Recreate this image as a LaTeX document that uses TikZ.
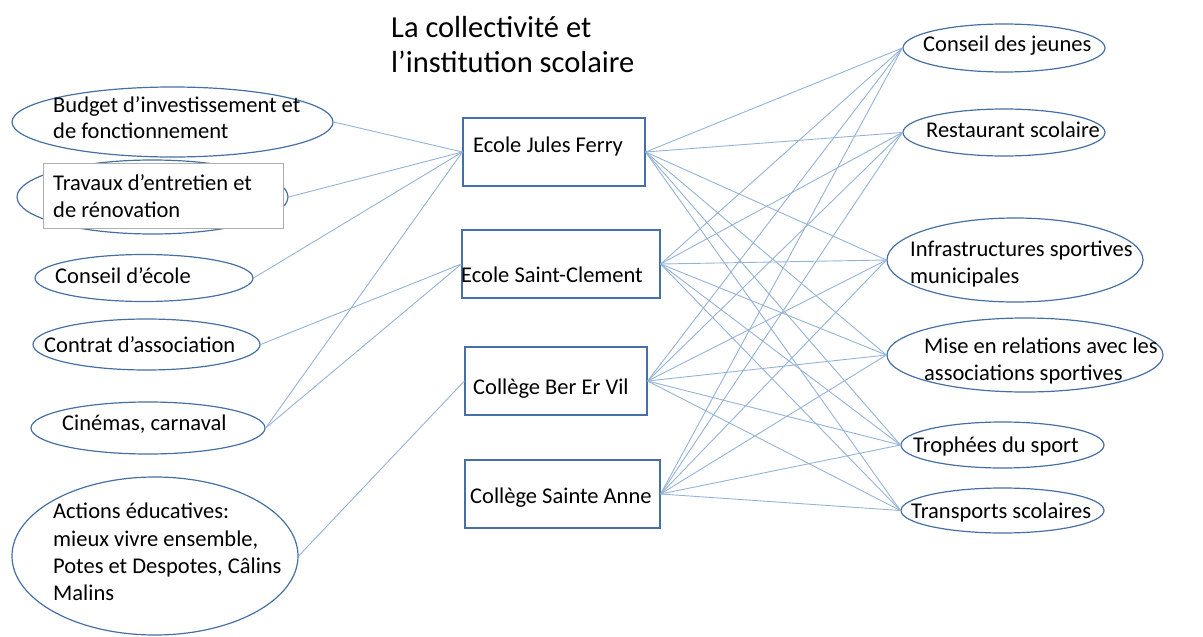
\documentclass[tikz,border=0pt]{standalone}
\usepackage{fontspec}
\setmainfont{Carlito}
\usetikzlibrary{shapes.geometric}
\definecolor{edgeblue}{RGB}{70,112,165}
\definecolor{linkblue}{RGB}{149,179,215}
\definecolor{boxgray}{RGB}{175,175,175}
\tikzset{
  ell/.style={draw=edgeblue, line width=1.2pt, ellipse, inner sep=0pt, fill=white},
  boxnode/.style={draw=edgeblue, line width=1.2pt, rectangle, inner sep=0pt, fill=white, minimum height=68},
  txt/.style={anchor=base west, inner sep=0pt, font=\fontsize{22.5}{27}\selectfont},
  ttl/.style={anchor=base west, inner sep=0pt, font=\fontsize{30.5}{35}\selectfont},
  link/.style={draw=linkblue, line width=0.9pt}
}
\begin{document}
\begin{tikzpicture}[x=1pt,y=-1pt]
\useasboundingbox (0,0) rectangle (1203,637);
% title
\node[ttl] (title1) at (391,37) {La collectivité et};
\node[ttl] (title2) at (391,72) {l’institution scolaire};
% left ellipses
\node[ell, minimum width=321, minimum height=70] (budget) at (172.5,122) {};
\node[ell, minimum width=271, minimum height=74] (travaux) at (152.5,197) {};
\node[draw=boxgray, fill=white, line width=0.8pt, rectangle, inner sep=0pt, minimum width=240, minimum height=65] (travauxbox) at (163,195.5) {};
\node[ell, minimum width=218, minimum height=47] (conseil) at (144,278) {};
\node[ell, minimum width=227, minimum height=51] (contrat) at (146.5,344.5) {};
\node[ell, minimum width=234, minimum height=52] (cinemas) at (148,428) {};
\node[ell, minimum width=286, minimum height=158] (actions) at (155,556) {};
% center boxes
\node[boxnode, minimum width=182] (jf) at (554,152) {};
\node[boxnode, minimum width=198] (sc) at (561,264) {};
\node[boxnode, minimum width=182] (bev) at (556,381) {};
\node[boxnode, minimum width=195] (sa) at (562.5,494) {};
% right ellipses
\node[ell, minimum width=202, minimum height=48] (cdj) at (1004,48) {};
\node[ell, minimum width=202, minimum height=47] (resto) at (1004,132.5) {};
\node[ell, minimum width=256, minimum height=84] (infra) at (1015,260) {};
\node[ell, minimum width=276, minimum height=74] (mise) at (1025,355) {};
\node[ell, minimum width=203, minimum height=46] (troph) at (1002.5,445) {};
\node[ell, minimum width=203, minimum height=45] (transp) at (1002.5,510.5) {};
% left texts
\node[txt] (tbudget1) at (53,112) {Budget d’investissement et};
\node[txt] (tbudget2) at (53,138) {de fonctionnement};
\node[txt] (ttravaux1) at (53,190) {Travaux d’entretien et};
\node[txt] (ttravaux2) at (53,217) {de rénovation};
\node[txt] (tconseil) at (55,283) {Conseil d’école};
\node[txt] (tcontrat) at (44,352) {Contrat d’association};
\node[txt] (tcinemas) at (62,430) {Cinémas, carnaval};
\node[txt] (tactions1) at (53,518) {Actions éducatives:};
\node[txt] (tactions2) at (53,546) {mieux vivre ensemble,};
\node[txt] (tactions3) at (53,573) {Potes et Despotes, Câlins};
\node[txt] (tactions4) at (53,600) {Malins};
% center texts
\node[txt] (tjf) at (473,152) {Ecole Jules Ferry};
\node[txt] (tsc) at (461,282) {Ecole Saint-Clement};
\node[txt] (tbev) at (473,394) {Collège Ber Er Vil};
\node[txt] (tsa) at (470,503) {Collège Sainte Anne};
% right texts
\node[txt] (tcdj) at (923,51) {Conseil des jeunes};
\node[txt] (tresto) at (926,137) {Restaurant scolaire};
\node[txt] (tinfra1) at (910,256) {Infrastructures sportives};
\node[txt] (tinfra2) at (910,283) {municipales};
\node[txt] (tmise1) at (924,353) {Mise en relations avec les};
\node[txt] (tmise2) at (924,380) {associations sportives};
\node[txt] (ttroph) at (913,452) {Trophées du sport};
\node[txt] (ttransp) at (911,518) {Transports scolaires};
% left connectors
\draw[link] (budget.east) -- (jf.west);
\draw[link] (travaux.east) -- (jf.west);
\draw[link] (conseil.east) -- (jf.west);
\draw[link] (contrat.east) -- (sc.west);
\draw[link] (cinemas.east) -- (jf.west);
\draw[link] (cinemas.east) -- (sc.west);
\draw[link] (actions.east) -- (bev.west);
% right connectors
\foreach \s in {jf,sc,bev,sa}{
  \foreach \t in {cdj,resto,infra,mise,troph,transp}{
    \draw[link] (\s.east) -- (\t.west);
  }
}
\end{tikzpicture}
\end{document}
